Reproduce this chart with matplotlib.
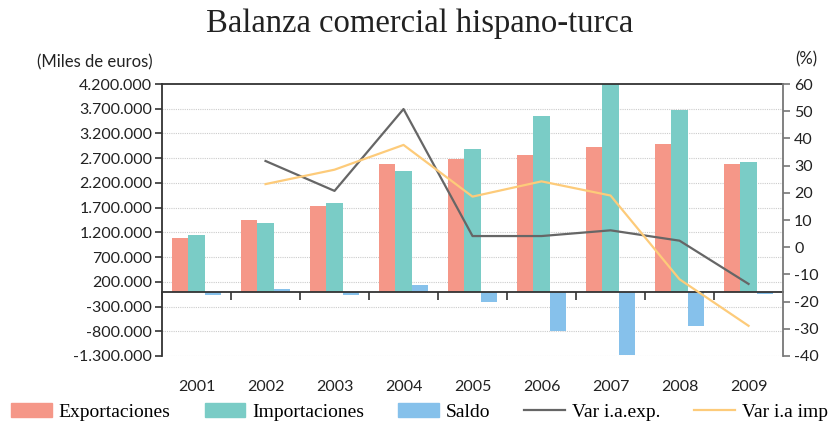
import matplotlib
matplotlib.use("Agg")
import matplotlib.pyplot as plt
import numpy as np
from matplotlib.patches import Patch
from matplotlib.lines import Line2D
from matplotlib.ticker import FixedLocator

years = ["2001", "2002", "2003", "2004", "2005", "2006", "2007", "2008", "2009"]
exportaciones = [1086000, 1450000, 1733000, 2582000, 2680000, 2764000, 2926000, 2987000, 2582000]
importaciones = [1147000, 1390000, 1794000, 2440000, 2885000, 3553000, 4200000, 3675000, 2620000]
saldo = [-61000, 60000, -61000, 142000, -205000, -789000, -1274000, -688000, -38000]
var_exp = [None, 31.7, 20.7, 50.8, 4.1, 4.1, 6.2, 2.4, -13.5]
var_imp = [None, 23.2, 28.5, 37.6, 18.6, 24.2, 19.0, -11.8, -28.9]
left_ticks = [4200000, 3700000, 3200000, 2700000, 2200000, 1700000, 1200000, 700000, 200000,
              -300000, -800000, -1300000]
right_ticks = [60, 50, 40, 30, 20, 10, 0, -10, -20, -30, -40]

C_EXP = "#F59788"
C_IMP = "#7ACCC6"
C_SAL = "#86C1EB"
C_VEXP = "#666666"
C_VIMP = "#FDCB7A"
DARK = "#333333"

serif = ["Liberation Serif", "DejaVu Serif"]
sans = ["Lato", "DejaVu Sans"]


def fmt(v):
    s = f"{abs(v):,}".replace(",", ".")
    return ("-" if v < 0 else "") + s


fig = plt.figure(figsize=(8.39, 4.23), dpi=100)
ax = fig.add_axes([0.1931, 0.1584, 0.7402, 0.6430])
ax2 = ax.twinx()

x = np.arange(len(years))
w = 0.235
ax.bar(x - w, exportaciones, w, color=C_EXP, zorder=2)
ax.bar(x, importaciones, w, color=C_IMP, zorder=2)
ax.bar(x + w, saldo, w, color=C_SAL, zorder=2)

ax.set_xlim(-0.5, len(years) - 0.5)
ax.set_ylim(-1300000, 4200000)
ax.set_yticks(left_ticks)
ax.set_yticklabels([fmt(v) for v in left_ticks], fontfamily=sans, fontsize=11.5, color="#222222")
ax.tick_params(axis="y", direction="out", length=5, width=1.2, color=DARK, pad=2)
for v in left_ticks[1:]:
    ax.axhline(v, color="#cccccc", lw=0.8, ls=(0, (1, 1)), zorder=1)

# x axis line at zero with ticks at category boundaries
ax.spines["bottom"].set_position(("data", 0))
ax.spines["bottom"].set_color(DARK)
ax.spines["bottom"].set_linewidth(1.3)
ax.spines["bottom"].set_zorder(3)
ax.set_xticks([])
ax.xaxis.set_minor_locator(FixedLocator(np.arange(len(years)) - 0.5))
ax.tick_params(axis="x", which="minor", direction="out", length=6, width=1.2, color=DARK)
for i, yr in enumerate(years):
    ax.text(i, -0.114, yr, transform=ax.get_xaxis_transform(), ha="center", va="center",
            fontfamily=sans, fontsize=11.5, color="#222222")
ax.spines["left"].set_color(DARK)
ax.spines["left"].set_linewidth(1.3)
ax.spines["top"].set_color(DARK)
ax.spines["top"].set_linewidth(1.3)
ax.spines["right"].set_visible(False)

xs = [i for i, v in enumerate(var_exp) if v is not None]
ax2.plot(xs, [var_exp[i] for i in xs], color=C_VEXP, lw=1.6, zorder=4)
ax2.plot(xs, [var_imp[i] for i in xs], color=C_VIMP, lw=1.6, zorder=4)
ax2.set_ylim(-40, 60)
ax2.set_yticks(right_ticks)
ax2.set_yticklabels([str(v) for v in right_ticks], fontfamily=sans, fontsize=11.5, color="#222222")
ax2.tick_params(axis="y", direction="out", length=5, width=1.2, color="#777777", pad=3)
for s in ["left", "top", "bottom"]:
    ax2.spines[s].set_visible(False)
ax2.spines["right"].set_color("#777777")
ax2.spines["right"].set_linewidth(1.3)

fig.text(0.5, 0.945, "Balanza comercial hispano-turca", ha="center", va="center",
         fontfamily=serif, fontsize=23.5, color="#222222")
fig.text(0.113, 0.853, "(Miles de euros)", ha="center", va="center",
         fontfamily=sans, fontsize=12, color="#222222")
fig.text(0.961, 0.860, "(%)", ha="center", va="center",
         fontfamily=sans, fontsize=12, color="#222222")

handles = [
    Patch(color=C_EXP, label="Exportaciones"),
    Patch(color=C_IMP, label="Importaciones"),
    Patch(color=C_SAL, label="Saldo"),
    Line2D([], [], color=C_VEXP, lw=1.6, label="Var i.a.exp."),
    Line2D([], [], color=C_VIMP, lw=1.6, label="Var i.a imp"),
]
fig.legend(handles=handles, loc="center", bbox_to_anchor=(0.5, 0.027), ncol=5, frameon=False,
           prop={"family": serif, "size": 14}, handlelength=2.1, handleheight=0.75,
           handletextpad=0.35, columnspacing=1.75, borderaxespad=0, borderpad=0)

fig.savefig("out.png", dpi=100)
